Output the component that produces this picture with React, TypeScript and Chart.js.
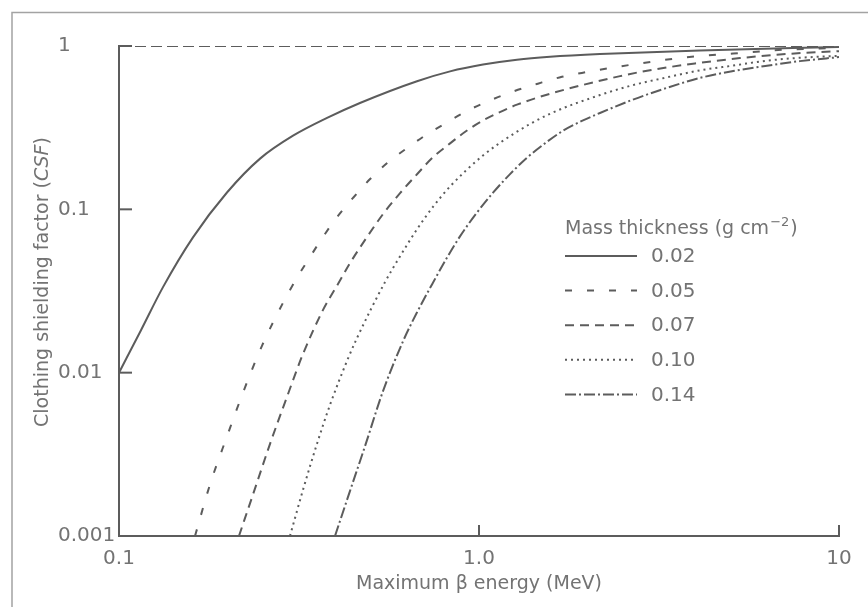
import React, { useEffect, useRef } from 'react';
import { Chart, registerables } from 'chart.js';

Chart.register(...registerables);

// ---------- data ----------
const xTickValues = [0.1, 1, 10];
const xTickLabels = ['0.1', '1.0', '10'];
const yTickValues = [0.001, 0.01, 0.1, 1];
const yTickLabels = ['0.001', '0.01', '0.1', '1'];

const seriesLabels = ['0.02', '0.05', '0.07', '0.10', '0.14'];

const energy002 = [0.1, 0.1151, 0.1325, 0.1605, 0.1995, 0.2465, 0.3044, 0.3784, 0.467, 0.6727, 0.831, 1.026, 1.275, 1.576, 2.168, 4.11, 10];
const csf002 = [0.01, 0.0182, 0.0334, 0.0674, 0.1268, 0.2044, 0.2823, 0.3628, 0.4477, 0.6087, 0.6993, 0.77, 0.8244, 0.859, 0.893, 0.94, 0.986];

const energy005 = [0.1626, 0.179, 0.1995, 0.2211, 0.2497, 0.2856, 0.3124, 0.3395, 0.3688, 0.4058, 0.4467, 0.4983, 0.5558, 0.631, 0.717, 0.815, 0.932, 1.087, 1.242, 1.457, 1.7, 1.995, 2.71, 3.73, 5.08, 6.98, 10];
const csf005 = [0.001, 0.00207, 0.00407, 0.00756, 0.01464, 0.0268, 0.0382, 0.0512, 0.0679, 0.0912, 0.1174, 0.1533, 0.1919, 0.237, 0.288, 0.3405, 0.403, 0.47, 0.526, 0.588, 0.648, 0.693, 0.774, 0.851, 0.899, 0.948, 0.975];

const energy007 = [0.2154, 0.2386, 0.2629, 0.2929, 0.3245, 0.3688, 0.4058, 0.4383, 0.4886, 0.5412, 0.6036, 0.6727, 0.745, 0.831, 0.926, 1.026, 1.143, 1.275, 1.575, 1.945, 2.465, 2.985, 3.98, 5.31, 7.31, 10];
const csf007 = [0.001, 0.00195, 0.00368, 0.00712, 0.01304, 0.02424, 0.0349, 0.0469, 0.0677, 0.0935, 0.1256, 0.164, 0.2083, 0.2533, 0.3039, 0.35, 0.3938, 0.4373, 0.51, 0.578, 0.654, 0.711, 0.782, 0.843, 0.896, 0.93];

const energy010 = [0.2985, 0.3245, 0.3548, 0.3856, 0.4299, 0.4583, 0.548, 0.6036, 0.6727, 0.745, 0.831, 1.026, 1.275, 1.575, 2.168, 2.677, 3.33, 4.11, 5.08, 6.31, 7.79, 10];
const csf010 = [0.001, 0.00192, 0.00367, 0.00635, 0.0118, 0.0163, 0.0358, 0.0516, 0.0755, 0.1035, 0.138, 0.2136, 0.2987, 0.3846, 0.501, 0.576, 0.643, 0.709, 0.759, 0.813, 0.847, 0.87];

const energy014 = [0.3981, 0.4383, 0.4826, 0.5412, 0.6152, 0.6727, 0.7404, 0.8097, 0.8855, 0.9873, 1.094, 1.2195, 1.359, 1.506, 1.71, 1.945, 2.168, 2.677, 3.33, 4.11, 5.08, 6.31, 7.79, 10];
const csf014 = [0.001, 0.00189, 0.00356, 0.00771, 0.01558, 0.0234, 0.0347, 0.0494, 0.0683, 0.0956, 0.1265, 0.1643, 0.207, 0.2484, 0.3025, 0.3503, 0.3889, 0.4697, 0.5546, 0.6377, 0.7019, 0.7575, 0.808, 0.855];

const referenceEnergy = [0.1, 10];
const referenceCsf = [1, 1];

const legendTitle = 'Mass thickness (g cm';
const legendTitleSup = '\u22122';
const legendTitleEnd = ')';
const xTitle = 'Maximum \u03b2 energy (MeV)';
const yTitleParts: [string, boolean][] = [
  ['Clothing shielding factor (', false],
  ['CSF', true],
  [')', false],
];

// ---------- styles ----------
const FONT = '"DejaVu Sans", sans-serif';
const TEXT = '#737373';
const INK = '#5c5c5c';
const FRAME = '#a3a3a3';

const seriesDash: number[][] = [[], [7, 15], [9, 6], [2, 4], [11, 3, 2, 3]];

const toPoints = (xs: number[], ys: number[]) => xs.map((x, i) => ({ x, y: ys[i] }));

const decorPlugin = {
  id: 'decor',
  beforeDraw(chart: any) {
    const ctx = chart.ctx;
    ctx.save();
    ctx.strokeStyle = FRAME;
    ctx.lineWidth = 1.5;
    ctx.beginPath();
    ctx.moveTo(12, chart.height);
    ctx.lineTo(12, 12.5);
    ctx.lineTo(chart.width, 12.5);
    ctx.stroke();
    ctx.restore();
  },
  afterDraw(chart: any) {
    const { ctx, chartArea, scales } = chart;
    const xs = scales.x;
    const ys = scales.y;
    ctx.save();
    // inward tick marks
    ctx.strokeStyle = INK;
    ctx.lineWidth = 2;
    ctx.setLineDash([]);
    yTickValues.forEach((v) => {
      const py = ys.getPixelForValue(v);
      ctx.beginPath();
      ctx.moveTo(chartArea.left, py);
      ctx.lineTo(chartArea.left + 13, py);
      ctx.stroke();
    });
    xTickValues.forEach((v) => {
      const px = xs.getPixelForValue(v);
      ctx.beginPath();
      ctx.moveTo(px, chartArea.bottom);
      ctx.lineTo(px, chartArea.bottom - 11);
      ctx.stroke();
    });

    // y axis title (with italic CSF)
    ctx.fillStyle = TEXT;
    ctx.textBaseline = 'middle';
    ctx.textAlign = 'left';
    const fontFor = (it: boolean) => `${it ? 'italic ' : ''}19px ${FONT}`;
    let total = 0;
    const widths = yTitleParts.map(([t, it]) => {
      ctx.font = fontFor(it);
      const w = ctx.measureText(t).width;
      total += w;
      return w;
    });
    const cy = (chartArea.top + chartArea.bottom) / 2 - 9;
    ctx.save();
    ctx.translate(43, cy);
    ctx.rotate(-Math.PI / 2);
    let cx = -total / 2;
    yTitleParts.forEach(([t, it], i) => {
      ctx.font = fontFor(it);
      ctx.fillText(t, cx, 0);
      cx += widths[i];
    });
    ctx.restore();

    // legend
    const lx = chartArea.left + 446;
    const titleY = chartArea.top + 183;
    ctx.font = `19px ${FONT}`;
    ctx.fillText(legendTitle, lx, titleY);
    let tx = lx + ctx.measureText(legendTitle).width + 1;
    ctx.font = `13px ${FONT}`;
    ctx.fillText(legendTitleSup, tx, titleY - 6);
    tx += ctx.measureText(legendTitleSup).width + 1;
    ctx.font = `19px ${FONT}`;
    ctx.fillText(legendTitleEnd, tx, titleY);

    const rowY0 = chartArea.top + 210;
    const rowGap = 34.6;
    chart.data.datasets.forEach((ds: any) => {
      if (ds.label === 'reference') return;
      const idx = seriesLabels.indexOf(ds.label);
      const ry = rowY0 + idx * rowGap;
      ctx.strokeStyle = INK;
      ctx.lineWidth = 2;
      ctx.setLineDash(ds.borderDash || []);
      ctx.beginPath();
      ctx.moveTo(lx, ry);
      ctx.lineTo(lx + 72, ry);
      ctx.stroke();
      ctx.setLineDash([]);
      ctx.font = `20px ${FONT}`;
      ctx.fillStyle = TEXT;
      ctx.fillText(ds.label, lx + 86, ry + 1);
    });
    ctx.restore();
  },
};

export default function App() {
  const canvasRef = useRef<HTMLCanvasElement | null>(null);

  useEffect(() => {
    if (!canvasRef.current) return;
    const seriesData = [
      toPoints(energy002, csf002),
      toPoints(energy005, csf005),
      toPoints(energy007, csf007),
      toPoints(energy010, csf010),
      toPoints(energy014, csf014),
    ];
    const datasets: any[] = [
      {
        label: 'reference',
        data: toPoints(referenceEnergy, referenceCsf),
        borderColor: INK,
        borderWidth: 2,
        borderDash: [11, 5],
        showLine: true,
        pointRadius: 0,
      },
      ...seriesData.map((d, i) => ({
        label: seriesLabels[i],
        data: d,
        borderColor: INK,
        borderWidth: 2,
        borderDash: seriesDash[i],
        showLine: true,
        pointRadius: 0,
        cubicInterpolationMode: 'monotone',
      })),
    ];

    const tickFont = { family: FONT, size: 20 };
    const chart = new Chart(canvasRef.current, {
      type: 'scatter',
      data: { datasets },
      options: {
        animation: false,
        responsive: true,
        maintainAspectRatio: false,
        layout: { padding: { top: 46, right: 29, left: 58, bottom: 0 } },
        plugins: { legend: { display: false }, tooltip: { enabled: false } },
        elements: { point: { radius: 0 } },
        scales: {
          x: {
            type: 'logarithmic',
            min: 0.1,
            max: 10,
            afterBuildTicks: (s: any) => {
              s.ticks = xTickValues.map((v) => ({ value: v }));
            },
            afterFit: (s: any) => {
              s.height = 71;
            },
            ticks: {
              callback: (_v: any, i: number) => xTickLabels[i],
              color: TEXT,
              font: tickFont,
              padding: 11,
              maxRotation: 0,
              autoSkip: false,
            },
            grid: { display: false, drawTicks: false },
            border: { display: true, color: INK, width: 2 },
            title: {
              display: true,
              text: xTitle,
              color: TEXT,
              font: { family: FONT, size: 19 },
              padding: { top: 0, bottom: 12 },
            },
          },
          y: {
            type: 'logarithmic',
            min: 0.001,
            max: 1,
            afterBuildTicks: (s: any) => {
              s.ticks = yTickValues.map((v) => ({ value: v }));
            },
            afterFit: (s: any) => {
              s.width = 61;
            },
            ticks: {
              callback: (_v: any, i: number) => yTickLabels[i],
              color: TEXT,
              font: tickFont,
              padding: 4,
              crossAlign: 'far',
              autoSkip: false,
            },
            grid: { display: false, drawTicks: false },
            border: { display: true, color: INK, width: 2 },
            title: { display: false },
          },
        },
      } as any,
      plugins: [decorPlugin],
    });
    return () => chart.destroy();
  }, []);

  return (
    <div style={{ position: 'fixed', left: 0, top: 0, width: 868, height: 607, background: '#fff' }}>
      <canvas ref={canvasRef} />
    </div>
  );
}
